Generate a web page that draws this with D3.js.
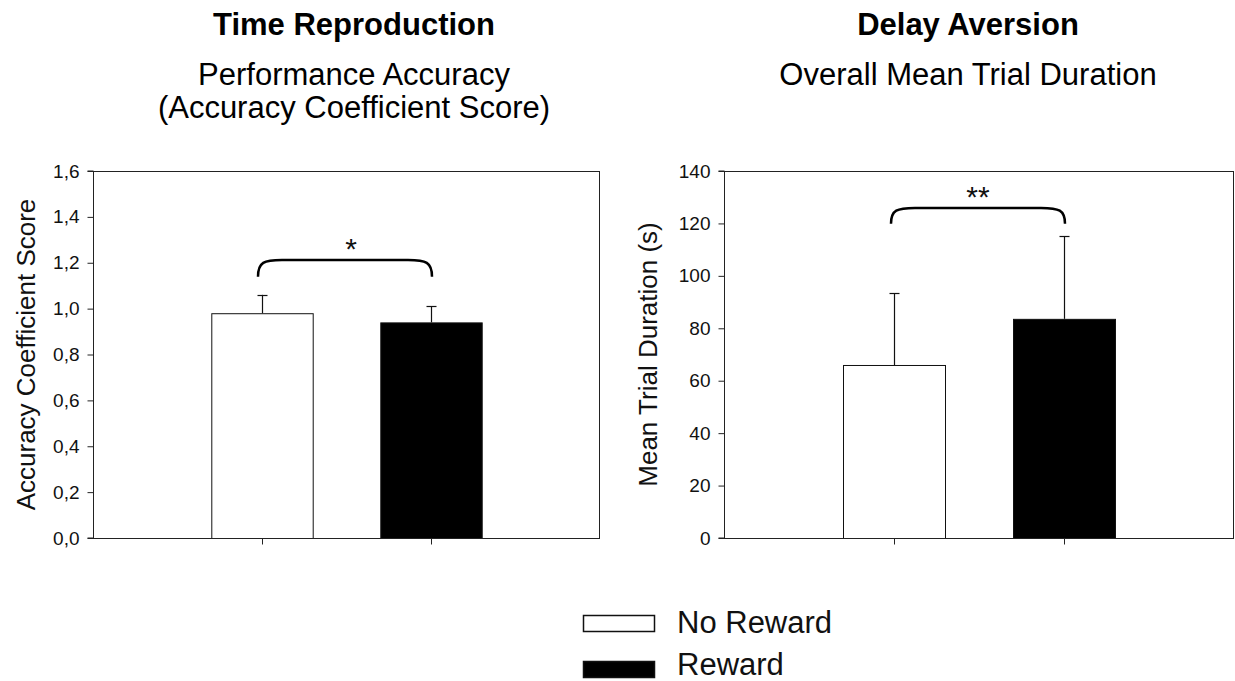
<!DOCTYPE html>
<html>
<head>
<meta charset="utf-8">
<script src="https://cdn.jsdelivr.net/npm/d3@7"></script>
<style>
  html, body { margin: 0; padding: 0; background: #fff; }
  svg { display: block; font-family: "Liberation Sans", Arial, sans-serif; }
</style>
</head>
<body>
<svg id="chart" width="1235" height="681"></svg>
<script>
// ---------- data ----------
const categories = ["No Reward", "Reward"];
const seriesColors = ["#ffffff", "#000000"];

const accuracyMeans = [0.98, 0.94];
const accuracyErrors = [0.08, 0.07];
const accuracyTicks = [0, 0.2, 0.4, 0.6, 0.8, 1.0, 1.2, 1.4, 1.6];
const accuracySig = { label: "*", top: 1.212, end: 1.139 };

const durationMeans = [66.0, 83.6];
const durationErrors = [27.3, 31.6];
const durationTicks = [0, 20, 40, 60, 80, 100, 120, 140];
const durationSig = { label: "**", top: 125.9, end: 119.9 };

const panelTitles = ["Time Reproduction", "Delay Aversion"];
const panelSubtitles = [["Performance Accuracy", "(Accuracy Coefficient Score)"], ["Overall Mean Trial Duration"]];
const yLabels = ["Accuracy Coefficient Score", "Mean Trial Duration (s)"];

// ---------- layout ----------
const svg = d3.select("#chart");
const axisColor = "#222";

const panels = [
  { left: 93, right: 600, top: 171, bottom: 538, means: accuracyMeans, errs: accuracyErrors,
    ticks: accuracyTicks, domain: [0, 1.6], fmt: d => d3.format(".1f")(d).replace(".", ","),
    sig: accuracySig, title: panelTitles[0], sub: panelSubtitles[0], ylab: yLabels[0],
    titleX: 354, ylabX: 35, sigOff: [-4, 1], starDx: 6 },
  { left: 724, right: 1234, top: 171, bottom: 538, means: durationMeans, errs: durationErrors,
    ticks: durationTicks, domain: [0, 140], fmt: d3.format("d"),
    sig: durationSig, title: panelTitles[1], sub: panelSubtitles[1], ylab: yLabels[1],
    titleX: 968, ylabX: 657, sigOff: [-3, 1], starDx: 0 }
];

panels.forEach(p => {
  const w = p.right - p.left, h = p.bottom - p.top;
  const g = svg.append("g").attr("transform", `translate(${p.left},${p.top})`);

  const x = d3.scalePoint().domain(categories).range([0, w]).padding(1);
  const y = d3.scaleLinear().domain(p.domain).range([h, 0]);
  const barW = w * 0.2;

  // frame (top and right)
  g.append("line").attr("x1", 0).attr("x2", w).attr("y1", 0.5).attr("y2", 0.5)
    .attr("stroke", axisColor).attr("stroke-width", 1);
  g.append("line").attr("x1", w - 0.5).attr("x2", w - 0.5).attr("y1", 0).attr("y2", h)
    .attr("stroke", axisColor).attr("stroke-width", 1);

  // bars
  g.selectAll("rect.bar").data(p.means).join("rect")
    .attr("class", "bar")
    .attr("x", (d, i) => x(categories[i]) - barW / 2 + 0.5)
    .attr("y", d => y(d) + 0.5)
    .attr("width", barW)
    .attr("height", d => h - y(d))
    .attr("fill", (d, i) => seriesColors[i])
    .attr("stroke", "#111")
    .attr("stroke-width", 1);

  // error bars (upward only)
  p.means.forEach((m, i) => {
    const cx = Math.round(x(categories[i])) + 0.5;
    g.append("line").attr("x1", cx).attr("x2", cx)
      .attr("y1", y(m)).attr("y2", y(m + p.errs[i]))
      .attr("stroke", "#111").attr("stroke-width", 1.2);
    g.append("line").attr("x1", cx - 5).attr("x2", cx + 5)
      .attr("y1", Math.round(y(m + p.errs[i])) + 0.5).attr("y2", Math.round(y(m + p.errs[i])) + 0.5)
      .attr("stroke", "#111").attr("stroke-width", 1.2);
  });

  // axes
  const yAxis = d3.axisLeft(y).tickValues(p.ticks).tickFormat(p.fmt).tickSize(6).tickPadding(8);
  const ya = g.append("g").attr("transform", "translate(0.5,0)").call(yAxis);
  const xAxis = d3.axisBottom(x).tickSize(6).tickFormat("");
  const xa = g.append("g").attr("transform", `translate(0,${h + 0.5})`).call(xAxis);
  [ya, xa].forEach(a => {
    a.select(".domain").attr("stroke", axisColor).attr("stroke-width", 1);
    a.selectAll(".tick line").attr("stroke", axisColor);
  });
  ya.select(".domain").attr("d", `M-6,${h}H0V0H-6`);
  xa.select(".domain").attr("d", `M0,0H${w}`);
  ya.selectAll(".tick text").attr("font-size", 19).attr("fill", "#111")
    .attr("font-family", "'Liberation Sans', Arial, sans-serif");

  // significance brace
  const x1 = x(categories[0]) + p.sigOff[0], x2 = x(categories[1]) + p.sigOff[1];
  const yt = y(p.sig.top), ye = y(p.sig.end);
  const r = 24;
  g.append("path")
    .attr("d", `M${x1},${ye} C${x1},${yt + 2} ${x1 + 6},${yt} ${x1 + r},${yt} L${x2 - r},${yt} C${x2 - 6},${yt} ${x2},${yt + 2} ${x2},${ye}`)
    .attr("fill", "none").attr("stroke", "#000").attr("stroke-width", 2.5);
  g.append("text")
    .attr("x", (x1 + x2) / 2 + p.starDx).attr("y", yt - 1)
    .attr("text-anchor", "middle").attr("font-size", 30).attr("fill", "#111")
    .text(p.sig.label);

  // y label
  svg.append("text")
    .attr("transform", `translate(${p.ylabX},${p.top + h / 2}) rotate(-90)`)
    .attr("text-anchor", "middle").attr("font-size", 26).attr("fill", "#111")
    .text(p.ylab);

  // titles
  svg.append("text").attr("x", p.titleX).attr("y", 35)
    .attr("text-anchor", "middle").attr("font-size", 31).attr("font-weight", "bold").attr("fill", "#000")
    .text(p.title);
  p.sub.forEach((s, k) => {
    svg.append("text").attr("x", p.titleX).attr("y", 85 + k * 33)
      .attr("text-anchor", "middle").attr("font-size", 31).attr("fill", "#000")
      .text(s);
  });
});

// ---------- legend ----------
const legend = svg.append("g");
const legendY = [615, 661];
const legendBaselines = [633, 675];
categories.forEach((c, i) => {
  legend.append("rect").attr("x", 583.5).attr("y", legendY[i] + 0.5).attr("width", 71).attr("height", 16)
    .attr("fill", seriesColors[i]).attr("stroke", "#111").attr("stroke-width", 1.5);
  legend.append("text").attr("x", 677).attr("y", legendBaselines[i])
    .attr("font-size", 31).attr("fill", "#111").text(c);
});
</script>
</body>
</html>
